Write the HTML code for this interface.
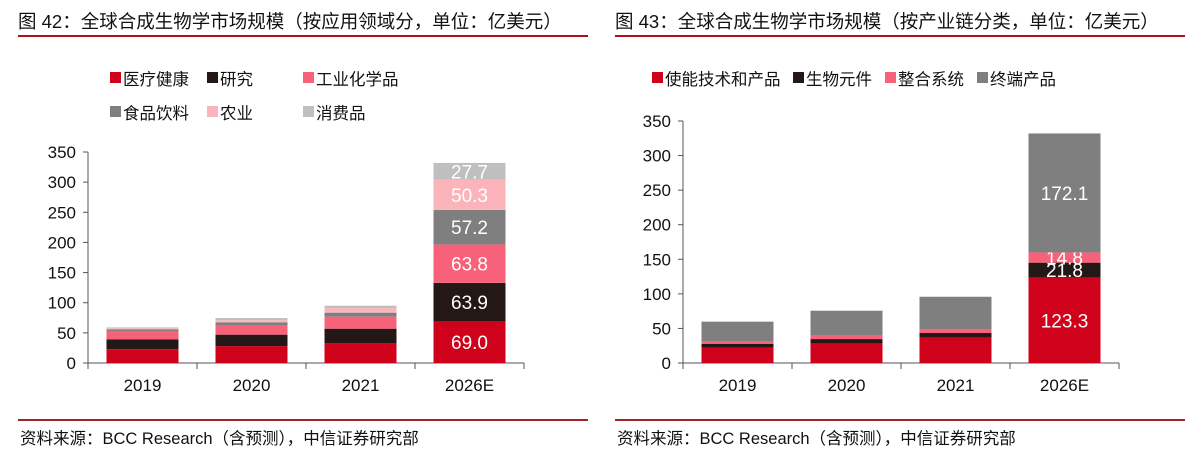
<!DOCTYPE html>
<html><head><meta charset="utf-8"><style>
body{margin:0;background:#fff;width:1189px;height:461px;overflow:hidden}
svg{display:block;font-family:"Liberation Sans","Noto Sans CJK SC",sans-serif}
</style></head><body>
<svg id="s" width="1189" height="461">
<text x="18" y="28" font-size="18.5" fill="#111">图 42：全球合成生物学市场规模（按应用领域分，单位：亿美元）</text>
<rect x="18" y="35" width="570" height="2" fill="#b0101c"/>
<text x="615" y="28" font-size="18.5" fill="#111">图 43：全球合成生物学市场规模（按产业链分类，单位：亿美元）</text>
<rect x="615" y="35" width="570" height="2" fill="#b0101c"/>
<rect x="18" y="419" width="570" height="2" fill="#a0242c"/>
<rect x="615" y="419" width="570" height="2" fill="#a0242c"/>
<text x="20" y="444" font-size="16.5" fill="#111">资料来源：BCC Research（含预测），中信证券研究部</text>
<text x="617" y="444" font-size="16.5" fill="#111">资料来源：BCC Research（含预测），中信证券研究部</text>
<g id="L"></g><g id="R"></g>
</svg>
<script>
const categories = ["2019","2020","2021","2026E"];
const yTicks = [0,50,100,150,200,250,300,350];
const leftSeriesNames = ["医疗健康","研究","工业化学品","食品饮料","农业","消费品"];
const leftColors = ["#d0021b","#231815","#f7617a","#7f7f7f","#fbb4b9","#bfbfbf"];
const leftHealth = [23,28,32.6,69.0];
const leftResearch = [16,19,24.3,63.9];
const leftChem = [14,16,19.9,63.8];
const leftFood = [3,4.5,6.7,57.2];
const leftAgri = [1.5,3.5,7.5,50.3];
const leftConsumer = [1.5,3.5,4,27.7];
const rightSeriesNames = ["使能技术和产品","生物元件","整合系统","终端产品"];
const rightColors = ["#d0021b","#231815","#f7617a","#7f7f7f"];
const rightEnabling = [22.5,27.9,36.6,123.3];
const rightParts = [5,6.7,6.8,21.8];
const rightSystems = [3.8,5.3,5.7,14.8];
const rightEnd = [28.5,35.7,46.7,172.1];

const NS="http://www.w3.org/2000/svg";
function mk(p,t,a){const e=document.createElementNS(NS,t);for(const k in a)e.setAttribute(k,a[k]);p.appendChild(e);return e;}
function draw(g,cfg){
  const y=v=>cfg.y0-(v/350)*(cfg.y0-cfg.y350);
  const step=cfg.step, x=i=>cfg.ax+step*i+step/2;
  const axis=mk(g,"line",{x1:cfg.ax,y1:cfg.y350,x2:cfg.ax,y2:cfg.y0,stroke:"#555","stroke-width":1});
  
  
  yTicks.forEach(t=>{
    const tl=mk(g,"line",{x1:cfg.ax-5,x2:cfg.ax,y1:y(t),y2:y(t),stroke:"#555"});
    
    
    const tx=mk(g,"text",{x:cfg.ax-12,y:y(t)+6,"text-anchor":"end","font-size":17,fill:"#111"});
    tx.textContent=t;
    
    
  });
  const xa=mk(g,"line",{x1:cfg.ax,x2:cfg.ax+step*4,y1:cfg.y0,y2:cfg.y0,stroke:"#555"});
  
  
  for(let i=0;i<=4;i++){
    const tk=mk(g,"line",{x1:cfg.ax+step*i,x2:cfg.ax+step*i,y1:cfg.y0,y2:cfg.y0+6,stroke:"#555"});
    
    
  }
  categories.forEach((c,i)=>{
    const t=mk(g,"text",{x:x(i),y:cfg.y0+28,"text-anchor":"middle","font-size":17,fill:"#111"});
    t.textContent=c;
    
    
    let acc=0;
    cfg.series.forEach((s,k)=>{
      const v=s[i];
      const r=mk(g,"rect",{x:x(i)-36,width:72,y:y(acc+v),height:y(acc)-y(acc+v),fill:cfg.colors[k]});
      
      
      if(i===3){
        const lt=mk(g,"text",{x:x(i),y:(y(acc)+y(acc+v))/2+7,"text-anchor":"middle","font-size":19,fill:"#fff"});
        lt.textContent=v.toFixed(1);
        
        
      }
      acc+=v;
    });
  });
  cfg.legend.forEach((L,k)=>{
    const sq=mk(g,"rect",{x:L[0],y:L[1]-6,width:11,height:11,fill:cfg.colors[k]});
    
    
    const lt=mk(g,"text",{x:L[0]+13,y:L[1]+7,"font-size":16.5,fill:"#111"});
    lt.textContent=cfg.names[k];
    
    
  });
}
draw(document.getElementById("L"),{y0:363,y350:152,ax:88,step:109,
  series:[leftHealth,leftResearch,leftChem,leftFood,leftAgri,leftConsumer],colors:leftColors,names:leftSeriesNames,
  legend:[[110,78],[207,78],[303,78],[110,112],[207,112],[303,112]]});
draw(document.getElementById("R"),{y0:363,y350:121,ax:683,step:109,
  series:[rightEnabling,rightParts,rightSystems,rightEnd],colors:rightColors,names:rightSeriesNames,
  legend:[[652,78],[793,78],[885,78],[977,78]]});
</script>
</body></html>
